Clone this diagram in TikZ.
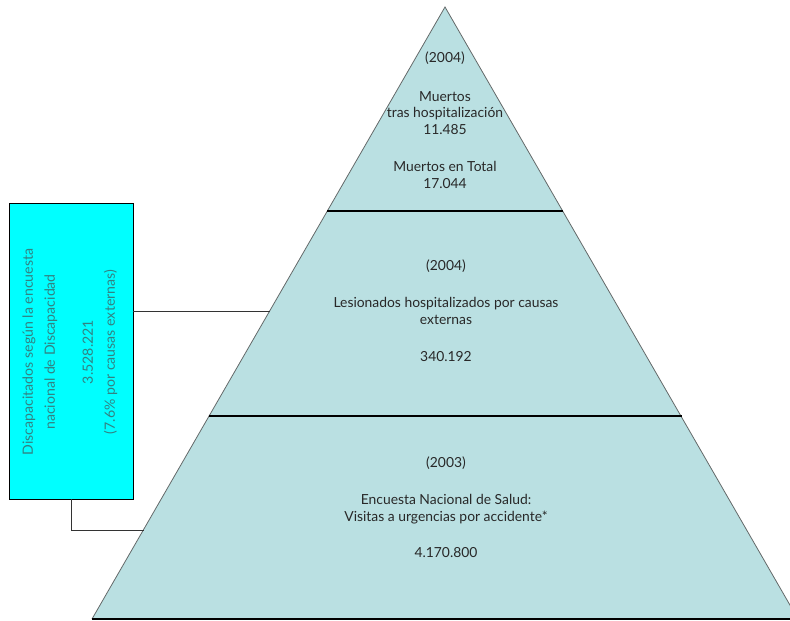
\documentclass[tikz,border=0pt]{standalone}
\usepackage{fontspec}
\setmainfont{Lato}
\definecolor{pyrfill}{RGB}{186,224,226}
\definecolor{edgegray}{RGB}{100,105,105}
\definecolor{boxtext}{RGB}{50,130,130}
\definecolor{boxfill}{RGB}{0,255,255}
\definecolor{txt}{RGB}{40,40,40}
\tikzset{
  pyr/.style={fill=pyrfill},
  edge/.style={draw=edgegray, line width=0.6pt},
  divider/.style={draw=black, line width=0.8pt},
  conn/.style={draw=black!80, line width=0.7pt},
  lbl/.style={text=txt, font=\fontsize{10.4}{12.3}\selectfont, align=center, inner sep=0pt},
  sidebox/.style={draw=black, line width=0.7pt, fill=boxfill, minimum width=93pt, minimum height=222pt, inner sep=0pt},
  sidetext/.style={text=boxtext, font=\fontsize{10.6}{16.5}\selectfont, align=center, rotate=90, inner sep=0pt}
}
\begin{document}
\begin{tikzpicture}[x=0.75pt,y=-0.75pt]
\useasboundingbox (0,0) rectangle (790,621);
\begin{scope}
\clip (0,0) rectangle (790,621);
\coordinate (apex) at (445,7);
\coordinate (bl) at (92,619);
\coordinate (br) at (798,619);
\coordinate (l1) at (327,211);
\coordinate (r1) at (563,211);
\coordinate (l2) at (208.5,416);
\coordinate (r2) at (681.5,416);
\fill[pyr] (apex) -- (bl) -- (br) -- cycle;
\draw[edge] (bl) -- (apex) -- (br);
\draw[divider] (l1) -- (r1);
\draw[divider] (l2) -- (r2);
\draw[divider] (bl) -- (br);
\end{scope}

\node[lbl] (t1) at (445,58) {(2004)};
\node[lbl] (t2) at (445,113) {Muertos\\tras hospitalización\\11.485};
\node[lbl] (t3) at (445,175) {Muertos en Total\\17.044};

\node[lbl] (m1) at (446,266) {(2004)};
\node[lbl] (m2) at (446,311) {Lesionados hospitalizados por causas\\externas};
\node[lbl] (m3) at (446,357) {340.192};

\node[lbl] (b1) at (446,463) {(2003)};
\node[lbl] (b2) at (446,509) {Encuesta Nacional de Salud:\\Visitas a urgencias por accidente*};
\node[lbl] (b3) at (446,553) {4.170.800};

\node[sidebox] (box) at (71,351) {};
\node[sidetext] (boxtxt) at (70,352) {Discapacitados según la encuesta\\nacional de Discapacidad\\[12pt]3.528.221\\(7.6\% por causas externas)};

\coordinate (p1) at (270,311);
\coordinate (p2) at (144,530);
\draw[conn] (p1 -| box.east) -- (p1);
\draw[conn] (box.south) |- (p2);
\end{tikzpicture}
\end{document}
